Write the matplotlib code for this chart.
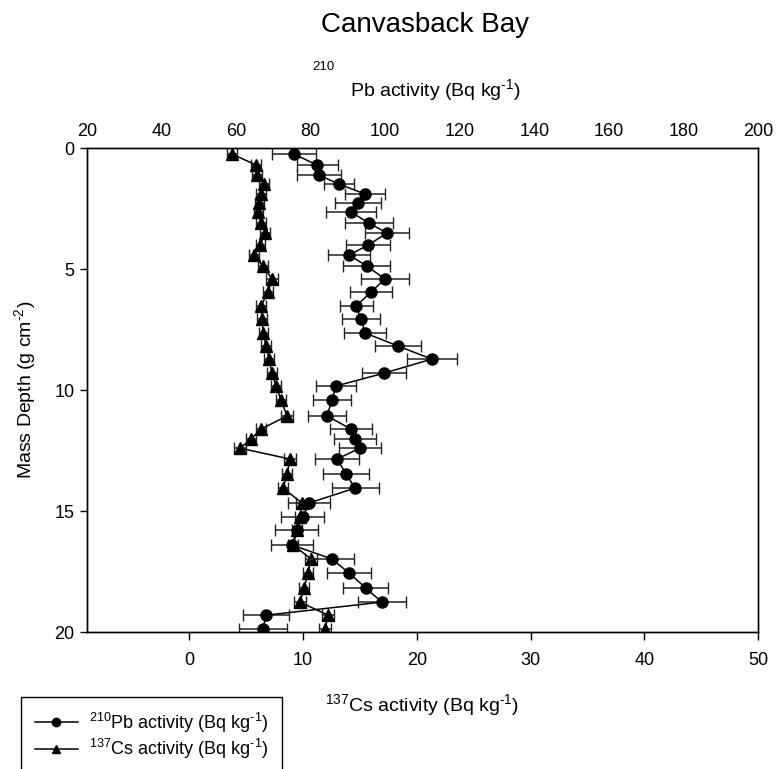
import matplotlib.pyplot as plt
from matplotlib.lines import Line2D

plt.rcParams['font.family'] = ['Liberation Sans', 'DejaVu Sans']
plt.rcParams['mathtext.fontset'] = 'custom'
plt.rcParams['mathtext.rm'] = 'Liberation Sans'
plt.rcParams['mathtext.it'] = 'Liberation Sans:italic'
plt.rcParams['mathtext.default'] = 'regular'

# datos
depth = [0.25, 0.70, 1.12, 1.49, 1.90, 2.27, 2.64, 3.10, 3.51, 4.01,
         4.42, 4.88, 5.41, 5.95, 6.53, 7.07, 7.64, 8.18, 8.72, 9.30,
         9.83, 10.41, 11.07, 11.61, 12.02, 12.40, 12.85, 13.47, 14.05, 14.67,
         15.25, 15.79, 16.40, 16.98, 17.56, 18.18, 18.76, 19.30, 19.88]

pb = [75.5, 81.7, 82.2, 87.6, 94.6, 92.7, 90.8, 95.6, 100.5, 95.4,
      90.3, 95.1, 99.9, 96.2, 92.2, 93.5, 94.6, 103.4, 112.5, 99.7,
      86.8, 85.7, 84.4, 90.8, 91.9, 93.2, 87.1, 89.5, 91.9, 79.5,
      77.9, 76.3, 75.0, 85.7, 90.3, 94.8, 99.1, 68.0, 67.2]
pb_err = [6.0, 5.5, 5.9, 4.0, 5.4, 6.2, 6.8, 6.4, 5.9, 5.8,
          5.6, 6.3, 6.4, 5.6, 4.4, 5.0, 5.7, 6.2, 6.7, 6.0,
          5.4, 5.2, 5.1, 5.6, 5.6, 5.6, 6.0, 6.1, 6.3, 5.7,
          5.8, 5.8, 5.6, 5.8, 6.0, 6.0, 6.5, 6.2, 6.4]

cs = [3.75, 5.86, 5.95, 6.57, 6.30, 6.13, 6.04, 6.30, 6.66, 6.22,
      5.69, 6.48, 7.27, 6.92, 6.30, 6.39, 6.48, 6.74, 7.00, 7.27,
      7.62, 8.06, 8.59, 6.30, 5.42, 4.46, 8.85, 8.59, 8.24, 9.91,
      9.73, 9.47, 9.12, 10.70, 10.44, 10.09, 9.73, 12.20, 11.93]
cs_err = [0.45, 0.45, 0.40, 0.45, 0.40, 0.40, 0.40, 0.45, 0.45, 0.40,
          0.45, 0.45, 0.50, 0.45, 0.40, 0.40, 0.40, 0.40, 0.45, 0.45,
          0.45, 0.45, 0.50, 0.45, 0.45, 0.50, 0.50, 0.45, 0.45, 0.50,
          0.45, 0.45, 0.45, 0.50, 0.45, 0.45, 0.50, 0.50, 0.50]

fig = plt.figure(figsize=(7.77, 7.69), dpi=100)
ax = fig.add_axes([0.112, 0.178, 0.8635, 0.6295])
ax2 = ax.twiny()

# Cs en eje inferior, Pb en eje superior
ax.errorbar(cs, depth, xerr=cs_err, fmt='-^', color='black', ms=8, lw=1.1,
            elinewidth=1.1, capsize=4, ecolor='#222222')
ax2.errorbar(pb, depth, xerr=pb_err, fmt='-o', color='black', ms=8, lw=1.1,
             elinewidth=1.1, capsize=4, ecolor='#222222')

ax.set_xlim(-9, 50)
ax2.set_xlim(20, 200)
ax.set_ylim(20, 0)
ax.set_xticks([0, 10, 20, 30, 40, 50])
ax2.set_xticks(list(range(20, 201, 20)))
ax.set_yticks([0, 5, 10, 15, 20])

ax.tick_params(axis='x', direction='out', length=6, width=1, labelsize=13, pad=8)
ax.tick_params(axis='y', direction='out', length=5, width=1, labelsize=13, pad=4)
ax2.tick_params(axis='x', length=0, labelsize=13, pad=6)
for a in (ax, ax2):
    for s in a.spines.values():
        s.set_linewidth(1)

ax.set_xlabel(r'$^{137}$Cs activity (Bq kg$^{\text{-}1}$)', fontsize=14, labelpad=17)
ax.set_ylabel(r'Mass Depth (g cm$^{\text{-}2}$)', fontsize=14, labelpad=12)

fig.text(0.547, 1 - 25 / 769, 'Canvasback Bay', fontsize=20, ha='center', va='center')
fig.text(0.56, 1 - 90 / 769, r'Pb activity (Bq kg$^{\text{-}1}$)', fontsize=14, ha='center', va='center')
fig.text(0.416, 1 - 67 / 769, '210', fontsize=9.5, ha='center', va='center')

handles = [Line2D([], [], color='black', marker='o', ms=6, lw=1.1),
           Line2D([], [], color='black', marker='^', ms=6, lw=1.1)]
labels = [r'$^{210}$Pb activity (Bq kg$^{\text{-}1}$)', r'$^{137}$Cs activity (Bq kg$^{\text{-}1}$)']
leg = fig.legend(handles, labels, loc='upper left', bbox_to_anchor=(0.027, 1 - 697 / 769),
                 borderaxespad=0, fancybox=False, edgecolor='black', fontsize=13,
                 handlelength=2.4, handletextpad=0.6, borderpad=0.75,
                 labelspacing=0.15, framealpha=1)
leg.get_frame().set_linewidth(1)

fig.savefig('out.png', dpi=100)
